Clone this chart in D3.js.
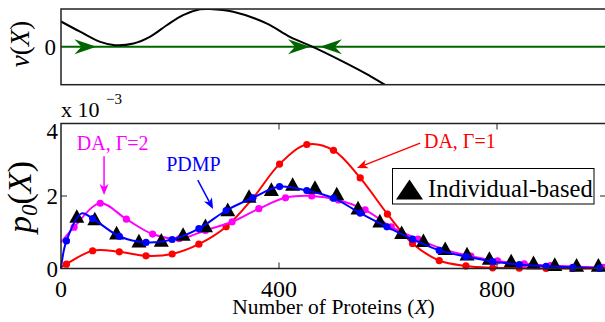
<!DOCTYPE html>
<html><head><meta charset="utf-8">
<script src="https://cdn.jsdelivr.net/npm/d3@7/dist/d3.min.js"></script>
<style>
html,body{margin:0;padding:0;background:#fff;}
svg{display:block;font-family:"Liberation Serif","Times New Roman",serif;}
</style></head>
<body>
<svg id="chart" width="605" height="322"></svg>
<script>
// ---------- data ----------
const xTicks = [0, 400, 800];
const yTicks = [0, 2, 4];
const vTicks = [0];

// top panel: velocity v(X)
const vX = [0, 35, 72, 99, 133, 163, 194, 224, 255, 273, 316, 377, 420, 462, 512, 561, 594, 620];
const vY = [0.67, 0.40, 0.13, 0.045, 0.09, 0.265, 0.57, 0.84, 0.99, 1.0, 0.926, 0.62, 0.265, 0, -0.35, -0.72, -1.0, -1.2];
const flowX = [65, 457, 475];       // arrow tips on the zero line
const flowDir = [1, 1, -1];

// DA, Gamma=1 (red)
const redX = [10, 58, 107, 156, 204, 253, 303, 352, 401, 451, 500, 549, 599, 645, 694, 743, 792, 841, 890, 939, 988];
const redY = [0.12, 0.49, 0.46, 0.35, 0.40, 0.67, 1.15, 1.94, 2.88, 3.42, 3.26, 2.50, 1.50, 0.69, 0.22, 0.07, 0.02, 0.01, 0.0, 0.0, 0.0];
const redStart = [0, 0.03];

// DA, Gamma=2 (magenta)
const magX = [24, 72, 120, 168, 217, 265, 314, 363, 412, 460, 509, 558, 606, 655, 704, 752, 801, 850, 898, 947, 996];
const magY = [1.14, 1.80, 1.36, 0.95, 0.82, 1.05, 1.29, 1.65, 1.95, 2.00, 1.89, 1.62, 1.15, 0.81, 0.52, 0.34, 0.21, 0.13, 0.08, 0.05, 0.03];
const magStart = [0, 0.72];

// PDMP (blue)
const blueX = [10, 58, 107, 156, 204, 253, 303, 352, 401, 451, 500, 549, 598, 645, 694, 743, 792, 841, 890, 939, 988];
const blueY = [0.76, 1.38, 0.89, 0.72, 0.80, 1.10, 1.60, 1.95, 2.26, 2.15, 1.94, 1.53, 1.15, 0.81, 0.50, 0.33, 0.19, 0.11, 0.06, 0.03, 0.01];
const blueStart = [0, 0.0];
const bluePeak = [38, 1.52];

// Individual-based (triangles)
const triX = [29, 62, 102, 143, 184, 224, 265, 306, 345, 386, 425, 466, 506, 545, 585, 625, 665, 705, 745, 786, 826, 867, 906, 946, 986];
const triY = [1.45, 1.38, 0.99, 0.77, 0.79, 0.95, 1.19, 1.63, 2.00, 2.19, 2.33, 2.25, 2.07, 1.68, 1.32, 1.00, 0.78, 0.56, 0.41, 0.29, 0.22, 0.17, 0.12, 0.10, 0.10];

// annotations (data coords): text start, arrow from -> to
const annLabels = ["DA, Γ=2", "PDMP", "DA, Γ=1"];
const annColors = ["#ff00ff", "#0000ff", "#ff0000"];
const annTextX = [29, 193, 666];
const annTextY = [3.27, 2.69, 3.32];
const annFrom = [[79, 3.10], [251, 2.44], [659, 3.46]];
const annTo = [[79, 2.03], [279, 1.64], [543, 2.77]];

// ---------- scales ----------
const svg = d3.select("#chart");
const L = 61, R = 606;
const x = d3.scaleLinear().domain([0, 1000]).range([L, R]);
const yT = d3.scaleLinear().domain([-1, 1]).range([84.7, 9]);
const yB = d3.scaleLinear().domain([0, 4]).range([268.5, 123.5]);

const curve = d3.curveCatmullRom.alpha(0.5);

// ---------- top panel ----------
svg.append("clipPath").attr("id", "clipTop").append("rect")
  .attr("x", L).attr("y", 9).attr("width", R - L).attr("height", 75.7);
const topG = svg.append("g");
topG.append("line").attr("x1", x(0)).attr("x2", x(1000)).attr("y1", yT(0)).attr("y2", yT(0))
  .attr("stroke", "#006400").attr("stroke-width", 2);
const vLine = d3.line().x((d, i) => x(vX[i])).y((d, i) => yT(vY[i])).curve(curve);
topG.append("path").attr("d", vLine(vX)).attr("clip-path", "url(#clipTop)")
  .attr("fill", "none").attr("stroke", "#000").attr("stroke-width", 2);
flowX.forEach((fx, i) => {
  const tx = x(fx), ty = yT(0), d = flowDir[i];
  const len = 22, hw = 7.5, notch = 15;
  const p = [[tx, ty], [tx - d * len, ty - hw], [tx - d * notch, ty], [tx - d * len, ty + hw]];
  topG.append("path").attr("d", "M" + p.map(q => q.join(",")).join("L") + "Z").attr("fill", "#006400");
});
topG.append("rect").attr("x", L).attr("y", 9).attr("width", R - L).attr("height", 75.7)
  .attr("fill", "none").attr("stroke", "#222").attr("stroke-width", 1.5);
vTicks.forEach(t => {
  topG.append("text").attr("x", 56).attr("y", yT(t)).attr("dy", "0.35em").attr("text-anchor", "end")
    .attr("font-size", 23).text(t);
});
topG.append("text").attr("transform", "translate(29,44) rotate(-90)").attr("text-anchor", "middle")
  .attr("font-size", 27)
  .html('<tspan font-style="italic">v</tspan>(<tspan font-style="italic">X</tspan>)');

// ---------- bottom panel ----------
const g = svg.append("g");

function series(xs, ys, extra, color) {
  const pts = xs.map((v, i) => [v, ys[i]]).concat(extra).sort((a, b) => a[0] - b[0]);
  const ln = d3.line().x(d => x(d[0])).y(d => yB(d[1])).curve(curve);
  g.append("path").attr("d", ln(pts)).attr("fill", "none").attr("stroke", color).attr("stroke-width", 2);
  g.selectAll(null).data(xs).enter().append("circle")
    .attr("cx", d => x(d)).attr("cy", (d, i) => yB(ys[i])).attr("r", 3.6).attr("fill", color);
}
series(redX, redY, [redStart], "#ff0000");
series(magX, magY, [magStart], "#ff00ff");

const tri = (cx, cy) => {
  const w = 7.5, h = 6.8;
  return `M${cx},${cy - h}L${cx + w},${cy + h}L${cx - w},${cy + h}Z`;
};
g.selectAll(null).data(triX).enter().append("path")
  .attr("d", (d, i) => tri(x(d), yB(triY[i]))).attr("fill", "#000");

series(blueX, blueY, [blueStart, bluePeak], "#0000ff");

// axes box + ticks
g.append("rect").attr("x", L).attr("y", yB(4)).attr("width", R - L).attr("height", yB(0) - yB(4))
  .attr("fill", "none").attr("stroke", "#222").attr("stroke-width", 1.5);
xTicks.forEach(t => {
  if (t > 0) {
    g.append("line").attr("x1", x(t)).attr("x2", x(t)).attr("y1", yB(0)).attr("y2", yB(0) - 6).attr("stroke", "#222");
    g.append("line").attr("x1", x(t)).attr("x2", x(t)).attr("y1", yB(4)).attr("y2", yB(4) + 6).attr("stroke", "#222");
  }
  g.append("text").attr("x", x(t)).attr("y", yB(0) + 28).attr("text-anchor", "middle")
    .attr("font-size", 24).text(t);
});
yTicks.forEach(t => {
  if (t > 0 && t < 4) {
    g.append("line").attr("x1", L).attr("x2", L + 6).attr("y1", yB(t)).attr("y2", yB(t)).attr("stroke", "#222");
    g.append("line").attr("x1", R).attr("x2", R - 6).attr("y1", yB(t)).attr("y2", yB(t)).attr("stroke", "#222");
  }
  const cy = Math.min(Math.max(yB(t), yB(4) + 7), yB(0) + 2);
  g.append("text").attr("x", 58).attr("y", cy).attr("dy", "0.35em").attr("text-anchor", "end")
    .attr("font-size", 23).text(t);
});
// exponent
g.append("text").attr("x", 61).attr("y", 117).attr("font-size", 22).text("x 10");
g.append("text").attr("x", 106).attr("y", 104).attr("font-size", 15).text("−3");

// axis labels
g.append("text").attr("x", 333.5).attr("y", 314).attr("text-anchor", "middle").attr("font-size", 21.5)
  .html('Number of Proteins (<tspan font-style="italic">X</tspan>)');
g.append("text").attr("transform", "translate(31,197) rotate(-90)").attr("text-anchor", "middle")
  .attr("font-size", 34)
  .html('<tspan font-style="italic">p</tspan><tspan font-style="italic" font-size="23" dy="6">0</tspan><tspan dy="-6">(</tspan><tspan font-style="italic">X</tspan>)');

// legend
const lg = g.append("g");
lg.append("rect").attr("x", 392.5).attr("y", 168.5).attr("width", 201.5).attr("height", 35.5)
  .attr("fill", "#fff").attr("stroke", "#000").attr("stroke-width", 1);
lg.append("path").attr("d", "M409.5,179.5L423,199.5L396,199.5Z").attr("fill", "#000");
lg.append("text").attr("x", 428).attr("y", 196.5).attr("font-size", 24.5).text("Individual-based");

// annotations
annLabels.forEach((lab, i) => {
  g.append("text").attr("x", x(annTextX[i])).attr("y", yB(annTextY[i])).attr("font-size", 20)
    .attr("fill", annColors[i]).text(lab);
  const x1 = x(annFrom[i][0]), y1 = yB(annFrom[i][1]), x2 = x(annTo[i][0]), y2 = yB(annTo[i][1]);
  const ang = Math.atan2(y2 - y1, x2 - x1), hl = 11, hw = 4.5, nb = 8;
  const ux = Math.cos(ang), uy = Math.sin(ang), px = -uy, py = ux;
  g.append("line").attr("x1", x1).attr("y1", y1).attr("x2", x2 - ux * nb).attr("y2", y2 - uy * nb)
    .attr("stroke", annColors[i]).attr("stroke-width", 1.5);
  const a = [[x2, y2], [x2 - ux * hl + px * hw, y2 - uy * hl + py * hw], [x2 - ux * nb, y2 - uy * nb],
             [x2 - ux * hl - px * hw, y2 - uy * hl - py * hw]];
  g.append("path").attr("d", "M" + a.map(q => q.join(",")).join("L") + "Z").attr("fill", annColors[i]);
});
</script>
</body></html>
